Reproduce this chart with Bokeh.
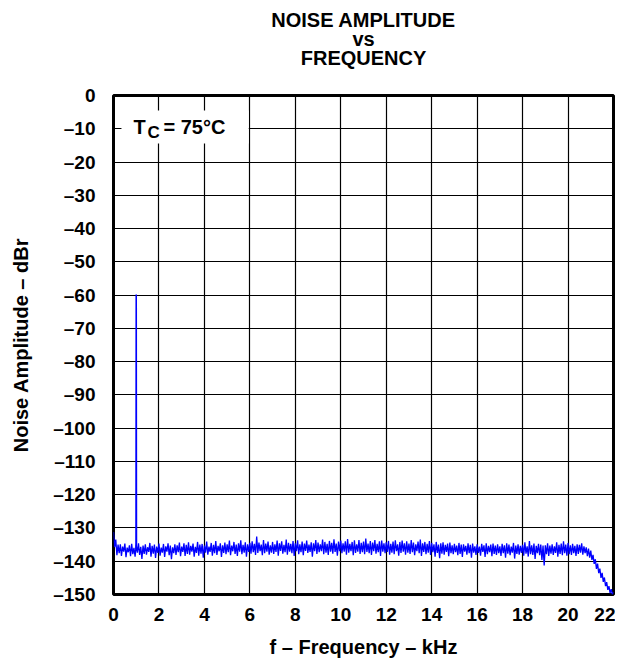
from bokeh.plotting import figure
from bokeh.models import Title, FixedTicker
from bokeh.core.properties import value
from bokeh.embed import file_html
from bokeh.resources import INLINE

# ---------------- data ----------------
title_lines = ["NOISE AMPLITUDE", "vs", "FREQUENCY"]
x_label = "f \u2013 Frequency \u2013 kHz"
y_label = "Noise Amplitude \u2013 dBr"
x_ticks = [0, 2, 4, 6, 8, 10, 12, 14, 16, 18, 20, 22]
x_tick_labels = ["0", "2", "4", "6", "8", "10", "12", "14", "16", "18", "20", "22"]
y_ticks = [0, -10, -20, -30, -40, -50, -60, -70, -80, -90, -100, -110, -120, -130, -140, -150]
y_tick_labels = ["0", "\u201310", "\u201320", "\u201330", "\u201340", "\u201350", "\u201360", "\u201370",
                 "\u201380", "\u201390", "\u2013100", "\u2013110", "\u2013120", "\u2013130", "\u2013140", "\u2013150"]

# noise floor, every 0.05 kHz from 0 to 22 kHz (dBr); one row per kHz
noise_db = [
    -131.2, -135.8, -133.5, -138.2, -135.0, -137.6, -134.9, -138.4, -135.6, -137.1, -134.7, -138.8, -135.9, -137.3, -135.2, -138.5, -134.8, -137.9, -136.0, -138.6,
    -135.1, -137.4, -134.6, -138.1, -135.7, -139.3, -135.3, -137.8, -134.9, -138.0, -135.8, -137.2, -134.5, -138.6, -135.4, -137.7, -135.0, -139.0, -135.6, -137.5,
    -134.7, -138.3, -135.9, -137.4, -134.8, -138.7, -135.5, -137.1, -134.6, -138.2, -135.3, -139.4, -135.8, -137.6, -134.9, -138.1, -135.2, -137.3, -134.4, -138.5,
    -135.6, -137.2, -134.6, -138.4, -135.1, -137.8, -134.3, -138.0, -135.4, -137.1, -134.7, -138.6, -135.7, -137.5, -134.2, -138.3, -135.0, -137.7, -134.8, -138.9,
    -135.3, -137.4, -134.1, -138.0, -135.6, -137.2, -134.5, -138.3, -135.1, -137.6, -133.9, -138.1, -135.4, -137.0, -134.6, -138.7, -135.2, -137.5, -134.4, -137.9,
    -134.9, -137.3, -133.8, -138.2, -135.3, -137.0, -134.2, -137.8, -135.0, -138.4, -134.6, -137.1, -133.7, -137.9, -135.1, -137.4, -134.3, -138.6, -134.9, -137.2,
    -134.5, -137.7, -134.0, -137.3, -134.8, -138.1, -132.6, -137.5, -134.4, -137.0, -135.0, -138.2, -133.6, -137.6, -134.7, -137.1, -134.1, -138.0, -135.2, -137.4,
    -134.2, -137.8, -134.9, -137.2, -133.8, -138.3, -134.6, -136.9, -134.0, -137.7, -135.1, -137.3, -133.5, -138.0, -134.5, -137.1, -134.8, -137.6, -133.9, -138.4,
    -134.6, -137.0, -133.7, -137.9, -134.9, -137.3, -134.1, -138.2, -134.7, -136.9, -133.8, -137.5, -135.0, -137.2, -134.3, -138.6, -134.6, -137.0, -133.6, -137.8,
    -134.4, -137.3, -134.9, -137.0, -133.5, -137.9, -134.2, -137.4, -134.8, -138.1, -133.9, -137.1, -134.5, -137.7, -133.4, -137.2, -134.7, -138.3, -134.1, -137.0,
    -133.8, -137.6, -134.6, -137.1, -134.0, -138.0, -133.3, -137.4, -134.8, -137.0, -134.2, -138.2, -133.7, -137.5, -134.9, -137.1, -133.6, -137.8, -134.5, -137.3,
    -134.1, -137.9, -133.2, -137.2, -134.7, -137.6, -133.9, -138.1, -134.4, -137.0, -133.6, -137.7, -134.8, -137.3, -134.0, -138.4, -133.8, -137.1, -134.6, -137.6,
    -134.3, -137.2, -133.9, -138.0, -134.8, -137.4, -134.1, -137.9, -133.7, -137.0, -134.9, -138.3, -134.2, -137.5, -133.8, -137.1, -134.6, -138.0, -134.0, -137.4,
    -134.7, -137.8, -133.6, -137.3, -134.4, -138.2, -134.9, -137.0, -134.1, -137.6, -133.5, -138.4, -134.6, -137.2, -134.2, -137.9, -134.8, -137.4, -133.9, -138.1,
    -134.5, -137.3, -134.9, -138.6, -134.2, -137.5, -135.0, -139.1, -134.6, -137.7, -134.3, -138.0, -135.1, -137.2, -134.7, -138.5, -134.4, -137.6, -135.2, -137.9,
    -134.8, -137.3, -135.3, -138.2, -134.5, -137.8, -135.0, -138.7, -134.9, -137.1, -135.4, -138.0, -134.6, -137.6, -135.1, -138.9, -134.7, -137.4, -135.5, -138.1,
    -134.9, -137.5, -135.6, -138.3, -134.8, -137.2, -135.2, -138.7, -134.6, -137.9, -135.4, -137.3, -135.0, -138.5, -134.7, -137.8, -135.3, -138.1, -134.9, -137.6,
    -135.5, -138.4, -134.8, -137.6, -135.2, -138.9, -134.6, -137.7, -135.0, -138.2, -135.6, -137.4, -134.5, -139.2, -135.3, -137.8, -134.9, -138.0, -135.4, -137.5,
    -135.1, -138.3, -134.3, -137.7, -135.5, -138.6, -133.9, -137.9, -135.2, -138.1, -134.7, -139.3, -135.4, -137.6, -134.8, -138.2, -135.0, -139.6, -135.3, -141.3,
    -135.2, -137.9, -134.6, -138.4, -135.3, -137.7, -134.9, -138.1, -135.5, -137.5, -134.3, -138.6, -135.1, -137.8, -134.7, -138.2, -134.0, -137.6, -135.0, -138.3,
    -134.5, -137.9, -135.2, -138.1, -134.8, -137.6, -135.4, -138.4, -134.9, -137.8, -135.1, -137.4, -134.6, -138.0, -135.5, -137.6, -135.8, -138.5, -136.2, -138.9,
    -136.8, -139.6, -138.1, -140.8, -139.4, -142.3, -140.7, -143.6, -142.2, -145.0, -143.5, -146.2, -144.9, -147.5, -146.3, -148.6, -147.5, -149.6, -148.4, -150.0,
    -149.3,
]
freq_khz = [round(i * 0.05, 2) for i in range(len(noise_db))]

# 1 kHz test-tone spur
spur_khz = [0.99, 1.0, 1.01]
spur_db = [-136.5, -59.8, -136.5]

# annotation
anno_box = dict(left=0.35, right=5.95, top=-4.5, bottom=-14.4)
anno_main = "T"
anno_sub = "C"
anno_rest = "= 75\u00b0C"

FONT = "Liberation Sans"
BLUE = "#0000FF"

p = figure(width=615, height=660, x_range=(0, 22), y_range=(-150, 0),
           output_backend="svg", toolbar_location=None, title=None,
           min_border_left=113, min_border_right=2, min_border_top=95, min_border_bottom=64)

# spacer between frame and the three title lines
p.add_layout(Title(text=" ", text_font=FONT, text_font_size="19px", standoff=6, offset=0), "above")
for line in reversed(title_lines):
    t = Title(text=line, align="center", text_font=FONT, text_font_size="20px",
              text_font_style="bold", text_color="black", standoff=-5, offset=0)
    p.add_layout(t, "above")

p.background_fill_color = "white"
p.border_fill_color = "white"
p.outline_line_color = "black"
p.outline_line_width = 3

# grid
p.xgrid.ticker = FixedTicker(ticks=x_ticks)
p.ygrid.ticker = FixedTicker(ticks=y_ticks)
for g in (p.xgrid, p.ygrid):
    g.grid_line_color = "black"
    g.grid_line_alpha = 1.0
    g.grid_line_width = 1.2

# axes
p.xaxis.ticker = FixedTicker(ticks=x_ticks)
p.yaxis.ticker = FixedTicker(ticks=y_ticks)
p.xaxis.major_label_overrides = {t: l for t, l in zip(x_ticks, x_tick_labels)}
p.yaxis.major_label_overrides = {t: l for t, l in zip(y_ticks, y_tick_labels)}
p.xaxis.axis_label = x_label
p.yaxis.axis_label = y_label
for ax in (p.xaxis, p.yaxis):
    ax.axis_line_color = None
    ax.major_tick_line_color = None
    ax.minor_tick_line_color = None
    ax.major_label_text_font = FONT
    ax.major_label_text_font_style = "bold"
    ax.major_label_text_font_size = "19px"
    ax.major_label_text_color = "black"
    ax.axis_label_text_font = FONT
    ax.axis_label_text_font_style = "bold"
    ax.axis_label_text_font_size = "20px"
    ax.axis_label_text_color = "black"
p.xaxis.major_label_standoff = 7
p.xaxis.axis_label_standoff = 12
p.yaxis.major_label_standoff = 12
p.yaxis.axis_label_standoff = 18

# annotation box
p.quad(left=[anno_box["left"]], right=[anno_box["right"]], top=[anno_box["top"]],
       bottom=[anno_box["bottom"]], fill_color="white", line_color=None)
p.text(x=[0.88], y=[-9.6], text=[anno_main], text_font=value(FONT), text_font_style="bold",
       text_font_size="20px", text_baseline="middle", text_align="left", text_color="black")
p.text(x=[1.50], y=[-9.6], text=[anno_sub], text_font=value(FONT), text_font_style="bold",
       text_font_size="17px", text_baseline="middle", text_align="left", text_color="black",
       y_offset=5)
p.text(x=[2.20], y=[-9.6], text=[anno_rest], text_font=value(FONT), text_font_style="bold",
       text_font_size="20px", text_baseline="middle", text_align="left", text_color="black")

# data
p.line(freq_khz, noise_db, line_color=BLUE, line_width=1.3)
p.line(spur_khz, spur_db, line_color=BLUE, line_width=1.6)

open("out.html", "w").write(file_html(p, INLINE))
